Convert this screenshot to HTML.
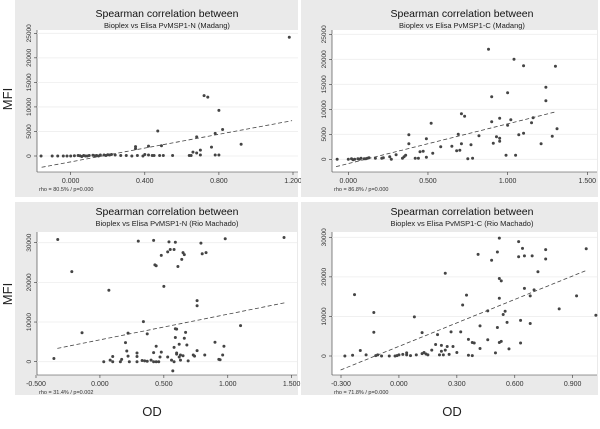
<!DOCTYPE html>
<html><head><meta charset="utf-8"><style>
body{margin:0;background:#fff;width:600px;height:424px;overflow:hidden}
text{font-family:"Liberation Sans",sans-serif}
</style></head><body>
<svg id="c" width="600" height="424"></svg>
<script>
const p1x=[1.18,0.72,0.74,0.8,0.82,0.78,0.47,0.68,0.76,0.92,0.35,0.35,0.42,0.49,0.70,0.66,0.68,0.64,0.70,0.78,0.80,0.55,0.45,0.48,0.5,0.65,-0.16,-0.1,-0.07,-0.04,-0.02,0,0.02,0.04,0.05,0.07,0.08,0.1,0.12,0.14,0.16,0.18,0.2,0.22,0.24,0.27,0.3,0.33,0.36,0.39,0.4,0.42,0.44,0.06,0.09,0.13,0.15,0.19,0.21];
const p1y=[24200,12300,12000,9300,5400,4600,5100,3900,1800,2400,1500,1900,2000,2100,1200,800,600,100,200,200,200,100,100,100,100,100,0,0,0,0,0,0,50,100,50,100,0,100,150,100,200,200,250,300,200,100,100,0,100,0,300,200,100,-100,0,50,0,100,200];
const p2x=[0.88,1.04,1.1,1.30,1.24,1.24,0.9,1.0,0.71,0.73,0.52,0.90,0.95,1.02,1.16,1.15,1.0,1.31,1.28,1.21,1.1,1.07,0.82,0.69,0.38,0.49,0.38,0.71,0.77,0.58,0.65,0.68,0.70,0.93,0.95,0.95,0.91,0.99,1.05,0.36,0.35,0.34,0.45,0.47,0.49,0.53,0.42,0.44,0.75,0.78,0.3,0.26,0.27,0.22,0.21,0.17,-0.07,0,0.02,0.04,0.06,0.08,0.1,0.12,0.13,0.03,0.07,0.11];
const p2y=[22000,20000,18700,18600,14400,11700,12500,13300,9100,8600,7200,7500,8200,7900,8300,7300,6800,6100,4600,3100,5200,4900,4700,5000,4900,4100,3100,3100,2900,2500,2600,1700,1800,4500,4200,3600,3200,800,800,800,500,200,1500,1600,400,1200,200,200,100,200,900,500,0,300,200,200,0,0,100,0,100,200,100,200,300,-100,0,100];
const p3x=[-0.33,0.3,0.42,0.54,0.59,0.98,1.44,0.79,0.55,0.58,0.53,0.48,0.65,0.66,0.80,0.83,0.64,0.43,0.44,0.61,-0.22,0.5,0.07,0.76,0.76,0.34,-0.14,0.22,0.37,1.1,0.59,0.60,0.67,0.59,0.66,0.62,0.68,0.9,0.97,0.2,0.44,0.48,0.42,0.21,0.29,0.22,0.29,0.1,0.08,0.76,0.73,0.74,0.82,0.96,0.93,0.94,-0.36,0.03,0.1,0.16,0.17,0.23,0.29,0.33,0.35,0.37,0.4,0.42,0.44,0.46,0.53,0.56,0.58,0.6,0.62,0.63,0.65,0.58,0.60,0.63,0.69,0.57,0.47];
const p3y=[30800,30400,30600,30200,30100,31000,31300,29900,28300,28300,27700,26800,27500,27000,27200,27500,25800,24400,24200,24000,22700,19000,18000,15400,14100,10100,7300,7200,7000,9100,8300,8200,7400,6100,5900,4400,4200,4900,3900,4800,3900,2400,2300,2700,2200,1400,1300,1300,400,2800,1700,1400,1700,1700,600,500,800,0,0,0,600,0,0,300,200,100,400,0,0,0,1200,400,0,1900,1200,1700,1500,3600,2200,400,200,-2300,1200];
const p4x=[0.52,0.62,0.64,0.65,0.62,0.69,0.76,0.76,0.97,0.41,0.51,0.48,0.72,0.24,0.52,0.53,0.65,0.70,0.68,0.92,-0.23,0.35,0.52,0.83,1.02,0.33,0.46,0.55,0.54,-0.13,0.08,0.63,0.56,0.68,0.42,0.51,-0.13,0.12,0.2,0.27,0.32,0.36,0.38,0.39,0.46,0.52,0.53,0.63,0.42,0.57,0.50,0.36,0.38,0.28,0.25,0.22,0.19,0.24,0.22,0.21,0.23,0.26,0.3,0.15,0.12,0.09,0.06,0.0,0.02,0.04,0.04,-0.01,-0.02,-0.05,-0.12,-0.11,-0.09,-0.17,-0.2,-0.24,-0.28,0.13,0.14,0.17];
const p4y=[29800,28900,27200,25300,25100,25300,26900,24500,27100,25700,26300,24200,21300,20900,19600,19000,17100,16700,15200,15200,15500,15400,14600,11900,10300,12900,11400,11300,10500,11000,9900,9000,8500,8200,7600,7200,6000,5900,5400,6100,6100,4200,3400,3300,4100,3400,3700,3300,1900,1800,800,200,100,2400,2400,2700,2900,1500,1200,300,300,400,900,300,600,300,100,300,400,800,300,100,0,0,100,300,0,300,1400,200,0,900,500,1500];
const xt1=[0,0.4,0.8,1.2], yt1=[0,5000,10000,15000,20000,25000];
const xt2=[0,0.5,1.0,1.5], yt2=yt1;
const xt3=[-0.5,0,0.5,1.0,1.5], yt3=[0,10000,20000,30000];
const xt4=[-0.3,0,0.3,0.6,0.9], yt4=yt3;
const fit1=[-0.157,-2300,1.195,7200], fit2=[-0.077,-1470,1.307,9530], fit3=[-0.333,3360,1.448,14870], fit4=[-0.302,-3540,0.976,21740];
const titles=["Bioplex vs Elisa PvMSP1-N (Madang)","Bioplex vs Elisa PvMSP1-C (Madang)","Bioplex vs Elisa PvMSP1-N (Rio Machado)","Bioplex vs Elisa PvMSP1-C (Rio Machado)"];
const rhos=["rho = 80.5% / p=0.000","rho = 86.8% / p=0.000","rho = 31.4% / p=0.002","rho = 71.8% / p=0.000"];
const svg=document.getElementById('c');const NS='http://www.w3.org/2000/svg';
function mk(t,a,par){const e=document.createElementNS(NS,t);for(const k in a)e.setAttribute(k,a[k]);(par||svg).appendChild(e);return e;}
const panels=[
 {bg:[15,0,283,197],pa:[37,30,261,142],x0:0,px0:70.7,x1:1.2,px1:293,y0:0,py0:156,y1:25000,py1:33.3,xs:p1x,ys:p1y,xt:xt1,yt:yt1,fit:fit1,dec:3,cx:167,ty:0},
 {bg:[301,0,297,197],pa:[332,30,265,142],x0:0,px0:348.3,x1:1.5,px1:587.3,y0:0,py0:159.3,y1:25000,py1:34.3,xs:p2x,ys:p2y,xt:xt2,yt:yt2,fit:fit2,dec:3,cx:462,ty:0},
 {bg:[15,202,283,193],pa:[37,232,260,143],x0:-0.5,px0:36,x1:1.5,px1:291.7,y0:0,py0:361.7,y1:30000,py1:242.7,xs:p3x,ys:p3y,xt:xt3,yt:yt3,fit:fit3,dec:3,cx:167,ty:198},
 {bg:[301,202,297,193],pa:[332,232,265,143],x0:-0.3,px0:341,x1:0.9,px1:572.7,y0:0,py0:356,y1:30000,py1:237.3,xs:p4x,ys:p4y,xt:xt4,yt:yt4,fit:fit4,dec:3,cx:462,ty:198}];
panels.forEach((P,i)=>{
 const g=mk('g',{});
 
 
 const sx=v=>P.px0+(v-P.x0)*(P.px1-P.px0)/(P.x1-P.x0);
 const sy=v=>P.py0+(v-P.y0)*(P.py1-P.py0)/(P.y1-P.y0);
 mk('rect',{x:P.bg[0],y:P.bg[1],width:P.bg[2],height:P.bg[3],fill:'#eaeaea'},g);
 mk('rect',{x:P.pa[0],y:P.pa[1],width:P.pa[2],height:P.pa[3],fill:'#fff'},g);
 const t=mk('text',{x:P.cx,y:P.ty+17,'text-anchor':'middle','font-size':'10.5',fill:'#111'},g);t.textContent='Spearman correlation between';
 
 const s=mk('text',{x:P.cx,y:P.ty+28,'text-anchor':'middle','font-size':'7.5',fill:'#222'},g);s.textContent=titles[i];
 
 const L=P.pa[0],R=P.pa[0]+P.pa[2],B=P.pa[1]+P.pa[3];
 mk('line',{x1:L,y1:P.pa[1],x2:L,y2:B,stroke:'#333','stroke-width':0.6},g);
 mk('line',{x1:L,y1:B,x2:R,y2:B,stroke:'#333','stroke-width':0.6},g);
 P.yt.forEach(v=>{const y=sy(v);
  mk('line',{x1:L,y1:y,x2:R,y2:y,stroke:'#eee','stroke-width':0.8},g);
  mk('line',{x1:L-3,y1:y,x2:L,y2:y,stroke:'#333','stroke-width':0.6},g);
  const tx=mk('text',{x:L-6,y:y,'text-anchor':'middle','font-size':'6.5',fill:'#333',transform:`rotate(-90 ${L-6} ${y})`},g);tx.textContent=v;
  });
 P.xt.forEach(v=>{const x=sx(v);
  mk('line',{x1:x,y1:B,x2:x,y2:B+3,stroke:'#333','stroke-width':0.6},g);
  const tx=mk('text',{x:x,y:B+11,'text-anchor':'middle','font-size':'7',fill:'#333'},g);tx.textContent=v.toFixed(3);
  });
 const r=mk('text',{x:L+2,y:B+19,'font-size':'5.5',fill:'#333'},g);r.textContent=rhos[i];
 
 const f=P.fit;
 const ln=mk('line',{x1:sx(f[0]),y1:sy(f[1]),x2:sx(f[2]),y2:sy(f[3]),stroke:'#444','stroke-width':0.8,'stroke-dasharray':'4,2.5'},g);
 
 P.xs.forEach((v,k)=>{const c=mk('circle',{cx:sx(v),cy:sy(P.ys[k]),r:1.5,fill:'#444'},g);
  });
});
[[8,95],[8,290]].forEach(p=>{const t=mk('text',{x:p[0],y:p[1],'text-anchor':'middle','font-size':'13',fill:'#222',transform:`rotate(-90 ${p[0]+4} ${p[1]})`});t.textContent='MFI';
 });
[[152,416],[452,416]].forEach(p=>{const t=mk('text',{x:p[0],y:p[1],'text-anchor':'middle','font-size':'13',fill:'#222'});t.textContent='OD';
 });
</script>
</body></html>
